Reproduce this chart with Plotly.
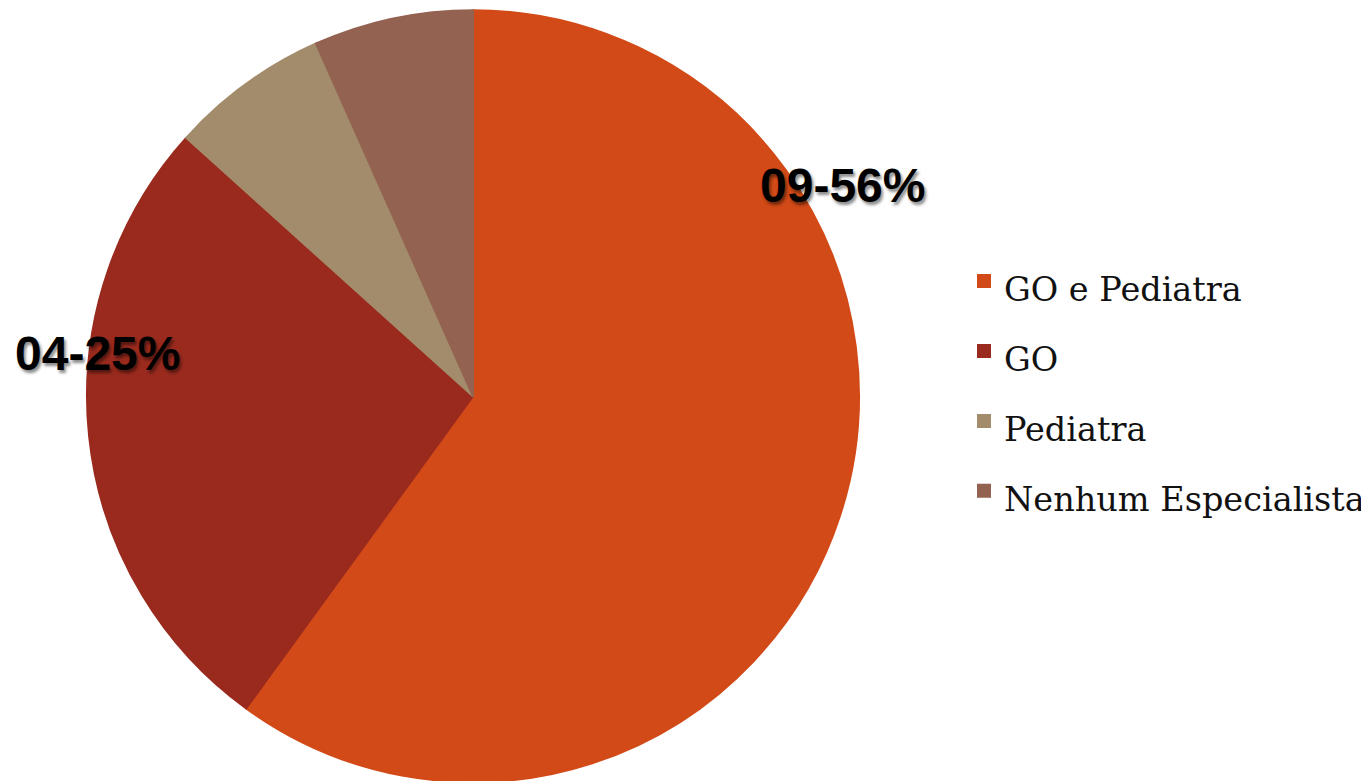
import plotly.graph_objects as go

categories = ["GO e Pediatra", "GO", "Pediatra", "Nenhum Especialista"]
values = [9, 4, 1, 1]
slice_labels = ["09-56%", "04-25%", "", ""]
colors = ["#D24A17", "#9A2A1E", "#A38C6B", "#946251"]

W, H = 1369, 781
legend_font = 51.5
visible_font = 33.5

fig = go.Figure(go.Pie(
    labels=[f'<span style="font-size:{visible_font}px">{c}</span>' for c in categories],
    values=values,
    sort=False,
    direction="clockwise",
    rotation=0,
    marker=dict(colors=colors, line=dict(width=2, color=colors)),
    textinfo="none",
    hoverinfo="label+value+percent",
    domain=dict(x=[79 / W, 851 / W], y=[0.006, 1]),
))

# Slice value labels (positions chosen to match reference)
label_pos = {"09-56%": (834, 178), "04-25%": (89, 345)}
for txt in slice_labels:
    if not txt:
        continue
    px, py = label_pos[txt]
    fig.add_annotation(
        x=px / W, y=1 - py / H, xref="paper", yref="paper",
        xanchor="center", yanchor="middle",
        text=txt, showarrow=False,
        font=dict(family="Liberation Sans, Arial", size=48, color="#000000",
                  weight="bold", shadow="2px 3px 3px rgba(0,0,0,0.45)"),
    )

fig.update_layout(
    width=W, height=H,
    margin=dict(l=0, r=0, t=0, b=0),
    paper_bgcolor="white",
    plot_bgcolor="white",
    showlegend=True,
    legend=dict(
        x=956 / W, xanchor="left",
        y=1 - 378 / H, yanchor="middle",
        font=dict(family="DejaVu Serif, Liberation Serif, serif", size=legend_font, color="#111111"),
        bgcolor="rgba(0,0,0,0)",
        traceorder="normal",
    ),
)

fig.write_html("out.html")
